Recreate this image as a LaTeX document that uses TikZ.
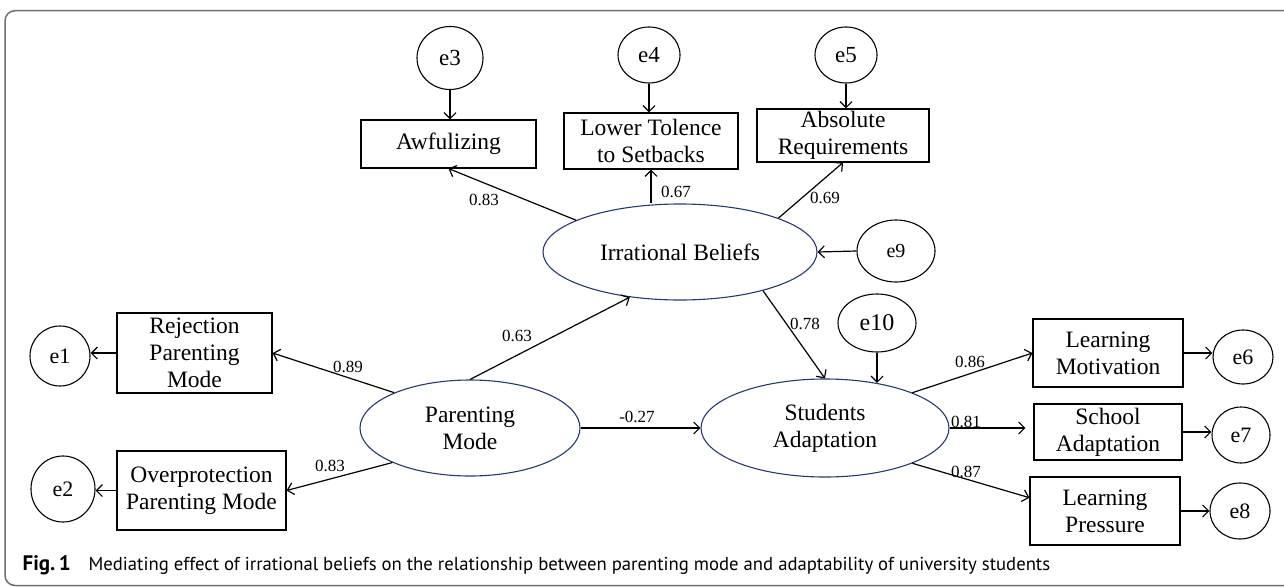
\documentclass[tikz,border=0pt]{standalone}
\usepackage{fontspec}
\setmainfont{Liberation Serif}
\newfontfamily\capfont{PT Sans}
\usetikzlibrary{arrows.meta,shapes.geometric}
\definecolor{ellblue}{HTML}{26396F}
\definecolor{framegray}{HTML}{6E6E6E}
\begin{document}
\begin{tikzpicture}[x=1pt,y=-1pt,line width=1.2pt,
  box/.style={draw, rectangle, inner sep=0pt, align=center, line width=1.1pt,
    font=\rmfamily\fontsize{23.5}{27}\selectfont},
  lat/.style={draw=ellblue, ellipse, inner sep=0pt, align=center, line width=1.1pt,
    font=\rmfamily\fontsize{23.5}{27}\selectfont},
  err/.style={draw, ellipse, inner sep=0pt, line width=1.1pt,
    font=\rmfamily\fontsize{22}{24}\selectfont},
  arr/.style={-{Straight Barb[length=6pt,width=12pt]}, line width=1.2pt},
  lab/.style={inner sep=0pt, font=\rmfamily\fontsize{17}{18}\selectfont}]
\useasboundingbox (0,0) rectangle (1284,586);
\draw[framegray, line width=1.5pt, rounded corners=10pt] (1300,10.7) -- (5,10.7) -- (5,585.5) -- (1300,585.5);

% error terms
\node[err, minimum width=66pt, minimum height=63pt, font=\rmfamily\fontsize{23}{25}\selectfont] (e3) at (450,58) {e3};
\node[err, minimum width=62pt, minimum height=56pt, font=\rmfamily\fontsize{23}{25}\selectfont] (e4) at (649,55) {e4};
\node[err, minimum width=62pt, minimum height=56pt, font=\rmfamily\fontsize{23}{25}\selectfont] (e5) at (846,55) {e5};
\node[err, minimum width=60pt, minimum height=60pt] (e1) at (60,356) {e1};
\node[err, minimum width=64pt, minimum height=66pt] (e2) at (63,489) {e2};
\node[err, minimum width=78pt, minimum height=62pt, font=\rmfamily\fontsize{20}{22}\selectfont] (e9) at (896,251) {e9};
\node[err, minimum width=78pt, minimum height=58pt, font=\rmfamily\fontsize{24}{26}\selectfont] (e10) at (877,323) {e10};
\node[err, minimum width=60pt, minimum height=54pt] (e6) at (1243,357) {e6};
\node[err, minimum width=58pt, minimum height=56pt] (e7) at (1241,435) {e7};
\node[err, minimum width=60pt, minimum height=56pt] (e8) at (1240,511) {e8};

% observed
\node[box, minimum width=175pt, minimum height=48pt] (awf) at (448.5,144) {Awfulizing};
\node[box, minimum width=174pt, minimum height=56pt] (low) at (651,141) {Lower Tolence\\to Setbacks};
\node[box, minimum width=172pt, minimum height=53pt] (abs) at (843,135.5) {Absolute\\Requirements};
\node[box, minimum width=155pt, minimum height=80pt] (rej) at (194.5,353) {Rejection\\Parenting\\Mode};
\node[box, minimum width=169pt, minimum height=79pt] (ovr) at (201.5,490.5) {Overprotection\\Parenting Mode};
\node[box, minimum width=150pt, minimum height=68pt] (lm) at (1108,353) {Learning\\Motivation};
\node[box, minimum width=148pt, minimum height=56pt] (sch) at (1108,432) {School\\Adaptation};
\node[box, minimum width=150pt, minimum height=68pt] (lp) at (1105,511) {Learning\\Pressure};

% latent
\node[lat, minimum width=274pt, minimum height=96pt] (ib) at (680,252) {Irrational Beliefs};
\node[lat, minimum width=220pt, minimum height=96pt] (pm) at (470,428) {Parenting\\Mode};
\node[lat, minimum width=248pt, minimum height=98pt] (sa) at (825,428) {Students\\Adaptation};

% connectors
\draw[arr] (e3.south) -- (e3.south |- awf.north);
\draw[arr] (e4.south) -- (e4.south |- low.north);
\draw[arr] (e5.south) -- (e5.south |- abs.north);
\draw[arr] (ib.163) -- (awf.south);
\draw[arr] (ib.north -| low.south) -- (low.south);
\draw[arr] (ib.19) -- (abs.south);
\draw[arr] (e9.west) -- (ib.east);
\draw[arr] (pm.north) -- (ib.222);
\draw[arr] (ib.335) -- (sa.north);
\draw[arr] (e10.south) -- (e10.south |- sa.41);
\draw[arr] (pm.155) -- (rej.east);
\draw[arr] (pm.204) -- (ovr.east);
\draw[arr] (rej.west) -- (rej.west -| e1.east);
\draw[arr] (ovr.west) -- (ovr.west -| e2.east);
\draw[arr] (pm.east) -- (sa.west);
\draw[arr] (sa.22) -- (lm.west);
\draw[arr, shorten >=8pt] (sa.east) -- (sa.east -| sch.west);
\draw[arr] (sa.338) -- (lp.170);
\draw[arr] (lm.east) -- (lm.east -| e6.west);
\draw[arr] (sch.east) -- (sch.east -| e7.west);
\draw[arr] (lp.east) -- (lp.east -| e8.west);

% labels
\node[lab] (l1) at (484,200) {0.83};
\node[lab] (l2) at (676,192) {0.67};
\node[lab] (l3) at (825,198) {0.69};
\node[lab] (l4) at (517,336) {0.63};
\node[lab] (l5) at (805,324) {0.78};
\node[lab] (l6) at (348,367) {0.89};
\node[lab] (l7) at (330,466) {0.83};
\node[lab] (l8) at (637,417) {-0.27};
\node[lab] (l9) at (970,362) {0.86};
\node[lab] (l10) at (966,422) {0.81};
\node[lab] (l11) at (966,472) {0.87};

% caption
\node[anchor=base west, inner sep=0pt, font=\capfont\fontsize{18.7}{21}\selectfont] (cap) at (22,570)
  {\makebox[66pt][l]{\fontsize{21}{23}\selectfont\textbf{Fig.\,1}}Mediating effect of irrational beliefs on the relationship between parenting mode and adaptability of university students};
\end{tikzpicture}
\end{document}
